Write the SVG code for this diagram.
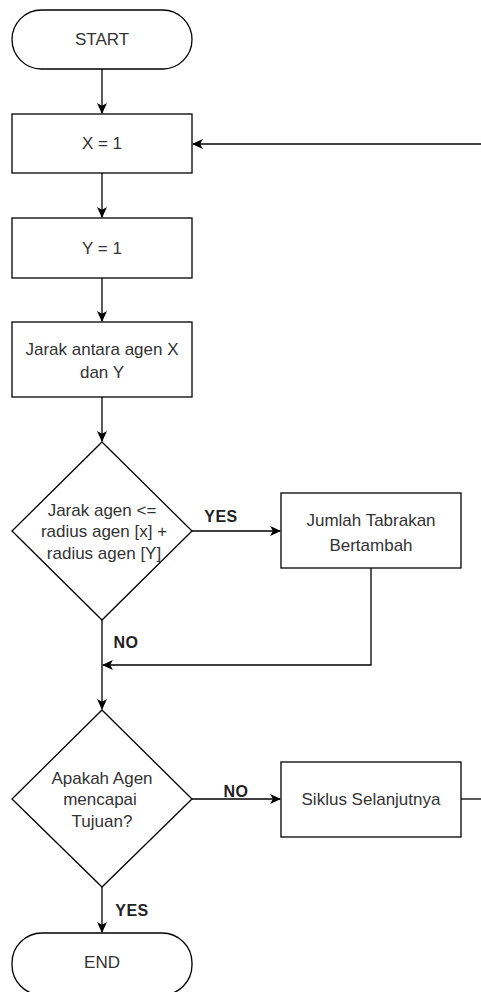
<svg xmlns="http://www.w3.org/2000/svg" width="481" height="992" viewBox="0 0 481 992">
  <style>
    .shape { fill: #ffffff; stroke: #000000; stroke-width: 1.3; }
    .edge { fill: none; stroke: #000000; stroke-width: 1.3; }
    .txt { font-family: "Liberation Sans", Arial, sans-serif; font-size: 17px; fill: #333333; text-anchor: middle; dominant-baseline: central; }
    .lbl { font-family: "Liberation Sans", Arial, sans-serif; font-size: 16px; font-weight: bold; fill: #222222; text-anchor: middle; dominant-baseline: central; letter-spacing: 0.5px; }
  </style>
  <defs>
    <marker id="arrow" viewBox="0 0 10 10" refX="9" refY="5" markerWidth="11" markerHeight="11" markerUnits="userSpaceOnUse" orient="auto">
      <path d="M0,0.5 L10,5 L0,9.5 L2.5,5 Z" fill="#000000"/>
    </marker>
  </defs>
  <rect width="481" height="992" fill="#ffffff"/>

  <g id="connectors">
    <path class="edge" d="M102,69 L102,113" marker-end="url(#arrow)"/>
    <path class="edge" d="M481,144 L193,144" marker-end="url(#arrow)"/>
    <path class="edge" d="M102,173 L102,217" marker-end="url(#arrow)"/>
    <path class="edge" d="M102,278 L102,321" marker-end="url(#arrow)"/>
    <path class="edge" d="M102,397 L102,441" marker-end="url(#arrow)"/>
    <path class="edge" d="M192,531 L280,531" marker-end="url(#arrow)"/>
    <path class="edge" d="M371,568 L371,665 L103,665" marker-end="url(#arrow)"/>
    <path class="edge" d="M102,620 L102,709" marker-end="url(#arrow)"/>
    <path class="edge" d="M192,799 L280,799" marker-end="url(#arrow)"/>
    <path class="edge" d="M461,799 L481,799"/>
    <path class="edge" d="M102,887 L102,932" marker-end="url(#arrow)"/>
    <text class="lbl" x="221" y="516">YES</text>
    <text class="lbl" x="126" y="642">NO</text>
    <text class="lbl" x="236" y="791">NO</text>
    <text class="lbl" x="132" y="910">YES</text>
  </g>

  <g id="start">
    <rect class="shape" x="12" y="10" width="180" height="59" rx="29.5" ry="29.5"/>
    <text class="txt" x="102" y="39.5">START</text>
  </g>

  <g id="init-x">
    <rect class="shape" x="12" y="114" width="180" height="59"/>
    <text class="txt" x="102" y="143.5">X = 1</text>
  </g>

  <g id="init-y">
    <rect class="shape" x="12" y="218" width="180" height="60"/>
    <text class="txt" x="102" y="248">Y = 1</text>
  </g>

  <g id="distance">
    <rect class="shape" x="12" y="322" width="180" height="75"/>
    <text class="txt" x="102" y="349">Jarak antara agen X</text>
    <text class="txt" x="102" y="372">dan Y</text>
  </g>

  <g id="collision-check">
    <polygon class="shape" points="102,442 192,531 102,620 12,531"/>
    <text class="txt" x="102" y="510">Jarak agen &lt;=</text>
    <text class="txt" x="104" y="531">radius agen [x] +</text>
    <text class="txt" x="104" y="553">radius agen [Y]</text>
  </g>

  <g id="collision-count">
    <rect class="shape" x="281" y="493" width="180" height="75"/>
    <text class="txt" x="371" y="520">Jumlah Tabrakan</text>
    <text class="txt" x="371" y="545">Bertambah</text>
  </g>

  <g id="goal-check">
    <polygon class="shape" points="102,710 192,799 102,887 12,799"/>
    <text class="txt" x="102" y="778">Apakah Agen</text>
    <text class="txt" x="100" y="799">mencapai</text>
    <text class="txt" x="102" y="821">Tujuan?</text>
  </g>

  <g id="next-cycle">
    <rect class="shape" x="281" y="762" width="180" height="75"/>
    <text class="txt" x="371" y="799">Siklus Selanjutnya</text>
  </g>

  <g id="end">
    <rect class="shape" x="12" y="933" width="180" height="62" rx="30" ry="30"/>
    <text class="txt" x="102" y="962">END</text>
  </g>
</svg>
